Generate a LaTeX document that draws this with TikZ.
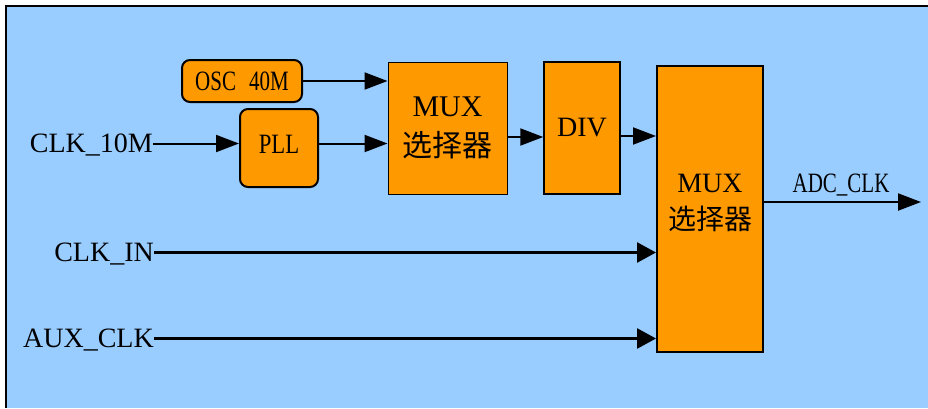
\documentclass[tikz,border=0pt]{standalone}
\usepackage{fontspec}
\setmainfont{Liberation Serif}
\newfontfamily\narrowfont[FakeStretch=0.75]{Liberation Serif}
\newfontfamily\cjk{Noto Sans CJK SC}
\usetikzlibrary{arrows.meta}
\definecolor{bgblue}{HTML}{99CCFF}
\definecolor{boxorange}{HTML}{FF9900}
\begin{document}
\begin{tikzpicture}[x=1pt,y=1pt,
  box/.style={draw=black, fill=boxorange, inner sep=0pt},
  rbox/.style={box, rounded corners=8pt, line width=2pt, font=\narrowfont\fontsize{28}{28}\selectfont},
  lbl/.style={inner sep=0pt, font=\fontsize{28}{28}\selectfont, text height=17pt, text depth=0pt, anchor=base east},
  arr/.style={line width=2pt, -{Triangle[length=23pt,width=17pt]}},
  arrb/.style={line width=2.6pt, -{Triangle[length=19pt,width=20pt]}},
  muxtxt/.style={align=center, inner sep=0pt}
]
\useasboundingbox (0,0) rectangle (928,-408);
% background frame
\fill[bgblue] (6,-6) rectangle (928,-408);
\draw[line width=2pt] (6,-408) -- (6,-6) -- (928,-6);

% boxes
\node[rbox, minimum width=120pt, minimum height=42pt] (osc) at (242,-81) {OSC\hspace{13pt}40M};
\node[rbox, minimum width=78pt, minimum height=78pt, text depth=7pt] (pll) at (279,-148) {\scalebox{1.08}[1]{PLL}};
\node[box, line width=1pt, minimum width=119pt, minimum height=132pt] (mux1) at (447.5,-128) {};
\node[muxtxt, font=\fontsize{30}{40}\selectfont] (mux1txt) at (mux1.center) {MUX\\{\cjk 选择器}};
\node[box, line width=1.5pt, minimum width=76pt, minimum height=132pt, font=\fontsize{28}{28}\selectfont] (div) at (582,-128) {DIV};
\node[box, line width=2pt, minimum width=106pt, minimum height=286pt] (mux2) at (710,-209) {};
\node[muxtxt, font=\fontsize{28}{37}\selectfont] (mux2txt) at ([yshift=6pt]mux2.center) {MUX\\{\cjk 选择器}};

% input labels
\node[lbl] (clk10) at (153,-152) {CLK\_10M};
\node[lbl] (clkin) at (154,-261) {CLK\_IN};
\node[lbl] (aux) at (154,-347) {AUX\_CLK};

% output
\coordinate (out) at (921,-202);
\node[inner sep=0pt, anchor=base, font=\narrowfont\fontsize{28}{28}\selectfont] (adc) at (841,-192) {ADC\_CLK};

% connectors
\draw[arr] (osc.east) -- (osc.east -| mux1.west);
\draw[arr] (clk10.east) -- (clk10.east -| pll.west);
\draw[arr] (pll.east |- clk10.east) -- (clk10.east -| mux1.west);
\draw[arr] ([yshift=-9pt]mux1.east) -- ([yshift=-9pt]mux1.east -| div.west);
\draw[arr] ([yshift=-8pt]div.east) -- ([yshift=-8pt]div.east -| mux2.west);
\draw[arrb] (clkin.east) -- (clkin.east -| mux2.west);
\draw[arrb] (aux.east) -- (aux.east -| mux2.west);
\draw[arr] ([yshift=7pt]mux2.east) -- (out);
\end{tikzpicture}
\end{document}
